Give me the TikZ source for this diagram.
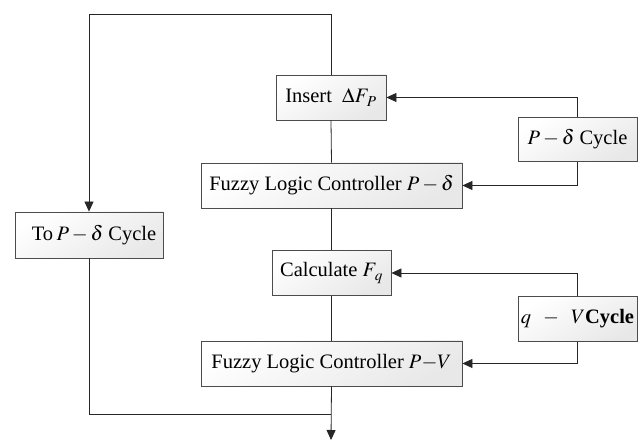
\documentclass[tikz,border=0pt]{standalone}
\usepackage{mathptmx}
\usepackage{fontspec}
\setmainfont{Liberation Serif}
\usetikzlibrary{arrows.meta}
\begin{document}
\begin{tikzpicture}[x=1pt,y=1pt,
  box/.style={draw=black!70, line width=0.8pt, rectangle, inner sep=0pt,
    top color=white, bottom color=black!9, shading angle=30,
    font=\fontsize{20.5}{24}\selectfont, anchor=center},
  conn/.style={draw=black!85, line width=0.8pt},
  arr/.style={conn, -{Triangle[length=10pt,width=9pt]}}]
\useasboundingbox (0,0) rectangle (638,441);
% boxes (y = 441 - image y)
\node[box, minimum width=110pt, minimum height=45pt] (ins) at (331,343.5) {Insert\ \ $\Delta F_{\,P}$};
\node[box, minimum width=261pt, minimum height=45pt] (flc1) at (331.5,255.5) {Fuzzy Logic Controller $P-\delta$};
\node[box, minimum width=119pt, minimum height=45pt] (calc) at (331.5,168) {Calculate $F_{\,q}$};
\node[box, minimum width=261pt, minimum height=45pt] (flc2) at (331.5,77.5) {Fuzzy Logic Controller\ $P{-}V$};
\node[box, minimum width=148pt, minimum height=46pt] (to) at (89,206) {\hspace*{10pt}To\,$P-\delta$ Cycle};
\node[box, minimum width=119pt, minimum height=44.5pt] (pc) at (577.5,301.5) {$P-\delta$ Cycle};
\node[box, minimum width=119pt, minimum height=45pt] (qc) at (577.5,122) {$q\;\;-\;\;V$\textbf{Cycle}};
% helper coordinates
\coordinate (tr) at (331,427);
\coordinate (tl) at (89,427);
\coordinate (bl) at (89,26.5);
\coordinate (bj) at (331,26.5);
\coordinate (end) at (331,1);
% main column
\draw[conn] (ins.south) -- (flc1.north);
\draw[conn] (flc1.south) -- (calc.north);
\draw[conn] (calc.south) -- (flc2.north);
\draw[arr] (flc2.south) -- (end);
% loop to left box
\draw[arr] (ins.north) -- (tr) -- (tl) -- (to.north);
\draw[conn] (to.south) -- (bl) -- (bj);
% right feedback
\draw[arr] (pc.north) |- (ins.east);
\draw[arr] (pc.south) |- (flc1.east);
\draw[arr] (qc.north) |- (calc.east);
\draw[arr] (qc.south) |- (flc2.east);
\end{tikzpicture}
\end{document}
